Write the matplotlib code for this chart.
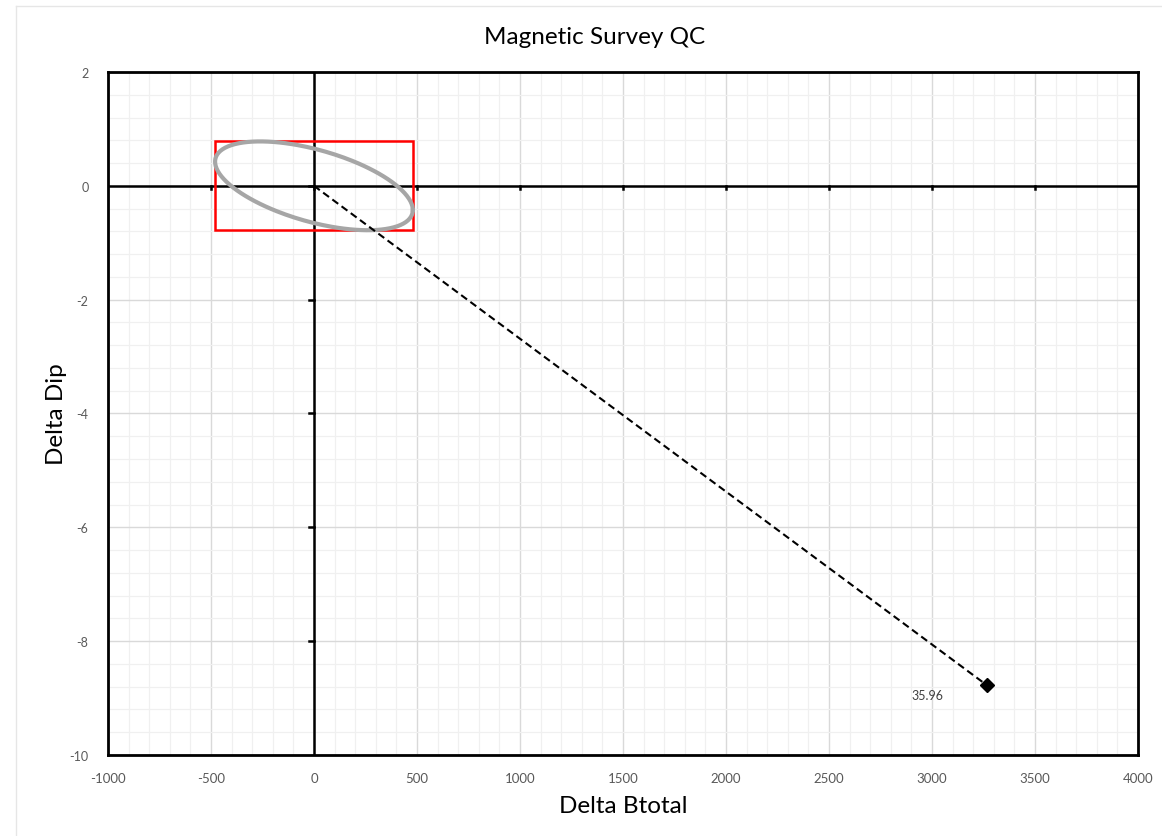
import numpy as np
import matplotlib.pyplot as plt
from matplotlib.lines import Line2D
from matplotlib.patches import Rectangle

# survey result: delta Btotal vs delta Dip
survey_btotal = [3265]
survey_dip = [-8.77]
survey_label = ["35.96"]

# tolerance box half-widths
tol_btotal = 480
tol_dip = 0.78
# phase offset of the tolerance ellipse inside the box (degrees)
ellipse_phase = 57

x_ticks = [-1000, -500, 0, 500, 1000, 1500, 2000, 2500, 3000, 3500, 4000]
y_ticks = [-10, -8, -6, -4, -2, 0, 2]

plt.rcParams['font.family'] = ['Lato', 'DejaVu Sans']
plt.rcParams['axes.unicode_minus'] = False

fig = plt.figure(figsize=(11.62, 8.37), dpi=100)
ax = fig.add_axes([0.0929, 0.0968, 0.8864, 0.816])

# faint chart-area border
fig.add_artist(Line2D([16 / 1162, 16 / 1162], [0, 1 - 7 / 837], transform=fig.transFigure,
                      color="#e6e6e6", lw=1))
fig.add_artist(Line2D([16 / 1162, 1], [1 - 7 / 837, 1 - 7 / 837], transform=fig.transFigure,
                      color="#e6e6e6", lw=1))

ax.set_xlim(-1000, 4000)
ax.set_ylim(-10, 2)
ax.set_xticks(x_ticks)
ax.set_yticks(y_ticks)
ax.set_xticks(np.arange(-1000, 4001, 100), minor=True)
ax.set_yticks(np.arange(-10, 2.01, 0.4), minor=True)
ax.grid(True, which="major", color="#d9d9d9", lw=1)
ax.grid(True, which="minor", color="#f0f0f0", lw=0.9)
ax.set_axisbelow(True)
ax.tick_params(which="both", length=0)
ax.tick_params(axis="x", labelsize=9.5, colors="#595959", pad=12)
ax.tick_params(axis="y", labelsize=9, colors="#595959", pad=14)

for s in ax.spines.values():
    s.set_color("black")
    s.set_linewidth(2)

# zero axes with small ticks at the major positions
ax.axhline(0, color="black", lw=1.8, zorder=2)
ax.axvline(0, color="black", lw=1.8, zorder=2)
for xt in x_ticks[1:-1]:
    ax.plot([xt, xt], [0, -0.06], color="black", lw=1.8, zorder=2)
for yt in y_ticks[1:-1]:
    ax.plot([0, -22], [yt, yt], color="black", lw=1.8, zorder=2)

# tolerance box and ellipse
ax.add_patch(Rectangle((-tol_btotal, -tol_dip), 2 * tol_btotal, 2 * tol_dip,
                       fill=False, edgecolor="#ff0000", lw=1.8, zorder=3))
t = np.linspace(0, 2 * np.pi, 200)
ax.plot(tol_btotal * np.cos(t), -tol_dip * np.cos(t - np.radians(ellipse_phase)),
        color="#a6a6a6", lw=3, zorder=3)

# survey point with dashed line from origin
for bx, dy, lab in zip(survey_btotal, survey_dip, survey_label):
    ax.plot([0, bx], [0, dy], color="black", ls=(0, (3.5, 2)), lw=1.5, zorder=4)
    ax.plot(bx, dy, marker="D", color="black", ms=7, zorder=5)
    ax.annotate(lab, (bx, dy), xytext=(-54, -10), textcoords="offset points",
                fontsize=9, color="#404040")

# title centred on the chart area rather than the plot area
fig.text(595 / 1162, 1 - 37 / 837, "Magnetic Survey QC", fontsize=17.5,
         ha="center", va="center")
ax.set_xlabel("Delta Btotal", fontsize=17.5, labelpad=8)
ax.set_ylabel("Delta Dip", fontsize=17.5, labelpad=2)

fig.savefig("out.png", dpi=100)
